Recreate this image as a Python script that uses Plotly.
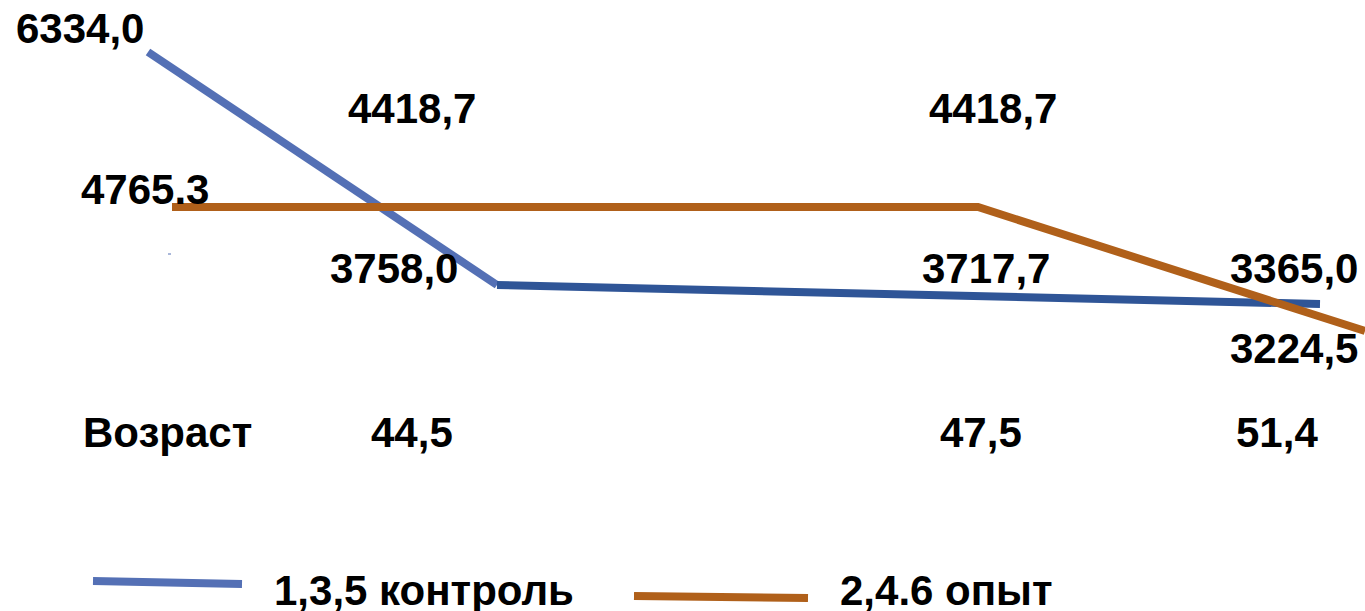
import plotly.graph_objects as go

W, H = 1365, 611

# Line vertices as drawn (horizontal position in chart units, value on the chart's scale)
blue_x = [1.48, 4.97, 9.90, 13.20]
blue_y = [6334.0, 3758.0, 3632.0, 3548.0]
orange_x = [1.72, 9.78, 13.65]
orange_y = [4620.0, 4620.0, 3249.0]

# Value labels written on the chart
value_labels = ["6334,0", "4418,7", "4765.3", "3758,0", "4418,7", "3717,7", "3365,0", "3224,5"]
value_label_px = [(80, 29), (412, 109), (145, 189), (394, 268), (993, 108), (986, 268), (1294, 268), (1294, 348)]

# Age row
age_labels = ["Возраст", "44,5", "47,5", "51,4"]
age_label_px = [(167, 432), (412, 432), (981, 432), (1277, 432)]

series_names = ["1,3,5 контроль", "2,4.6 опыт"]

BLUE_LIGHT = "#5470B5"
BLUE_DARK = "#2F5597"
ORANGE = "#B0601A"
FONT = "Liberation Sans, Arial, sans-serif"

fig = go.Figure()
fig.add_trace(go.Scatter(x=blue_x[:2], y=blue_y[:2], mode="lines",
                         line=dict(color=BLUE_LIGHT, width=8), showlegend=False))
fig.add_trace(go.Scatter(x=blue_x[1:], y=blue_y[1:], mode="lines",
                         line=dict(color=BLUE_DARK, width=8), showlegend=False))
fig.add_trace(go.Scatter(x=orange_x, y=orange_y, mode="lines",
                         line=dict(color=ORANGE, width=8), showlegend=False))

ann = []
def px_ann(text, px, py):
    return dict(text=text, x=px / W, y=1 - py / H, xref="paper", yref="paper",
                xanchor="center", yanchor="middle", showarrow=False,
                font=dict(family=FONT, size=42, color="black", weight="bold"))

for t, (px, py) in zip(value_labels, value_label_px):
    ann.append(px_ann(t, px, py))
for t, (px, py) in zip(age_labels, age_label_px):
    ann.append(px_ann(t, px, py))

# legend
ann.append(dict(text=series_names[0], x=272 / W, y=1 - 590 / H, xref="paper", yref="paper",
                xanchor="left", yanchor="middle", showarrow=False,
                font=dict(family=FONT, size=42, color="black", weight="bold")))
ann.append(dict(text=series_names[1], x=838 / W, y=1 - 590 / H, xref="paper", yref="paper",
                xanchor="left", yanchor="middle", showarrow=False,
                font=dict(family=FONT, size=42, color="black", weight="bold")))

shapes = [
    dict(type="line", xref="paper", yref="paper", x0=93 / W, y0=1 - 581 / H, x1=242 / W, y1=1 - 584 / H,
         line=dict(color=BLUE_LIGHT, width=8)),
    dict(type="line", xref="paper", yref="paper", x0=634 / W, y0=1 - 596 / H, x1=808 / W, y1=1 - 598 / H,
         line=dict(color=ORANGE, width=8)),
    dict(type="line", xref="paper", yref="paper", x0=168 / W, y0=1 - 254 / H, x1=171 / W, y1=1 - 254 / H,
         line=dict(color=BLUE_LIGHT, width=1)),
]

fig.update_layout(
    width=W, height=H,
    margin=dict(l=0, r=0, t=0, b=0),
    paper_bgcolor="white", plot_bgcolor="white",
    xaxis=dict(range=[0, 13.65], visible=False, fixedrange=True),
    yaxis=dict(range=[154, 6909], visible=False, fixedrange=True),
    annotations=ann, shapes=shapes, showlegend=False,
)

fig.write_html("out.html", config={"displayModeBar": False},
               post_script="document.body.style.margin='0';document.body.style.overflow='hidden';")
